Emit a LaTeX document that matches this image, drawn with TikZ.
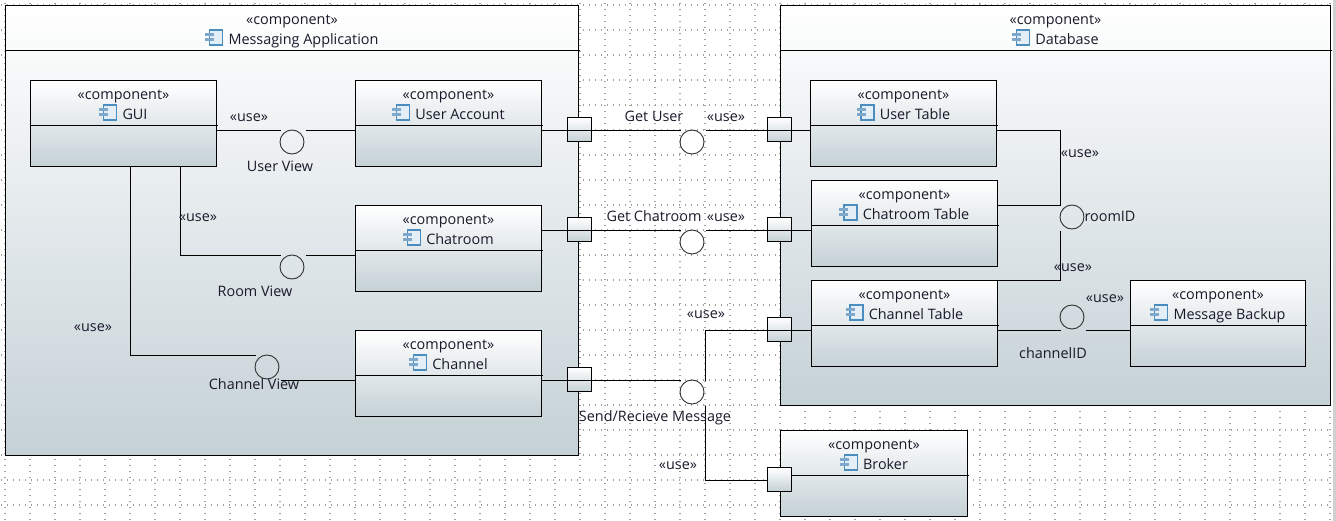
\documentclass[tikz,border=0pt]{standalone}
\usepackage{fontspec}
\setmainfont{Open Sans}
\usepackage{xcolor}
\usepackage{tikz}
\usetikzlibrary{calc}
\definecolor{mBoxEnd}{HTML}{C5D1D6}
\definecolor{mGrid}{HTML}{A0A0A0}
\definecolor{mRing}{HTML}{333333}
\definecolor{mText}{HTML}{1A1A2A}
\definecolor{mIcon}{HTML}{4C8DBF}
\definecolor{mIconIn}{HTML}{E3EEF7}
\definecolor{mIconTab}{HTML}{7FA9CC}
\definecolor{mStripe}{HTML}{D0D0D0}
\tikzset{
 gridline/.style={mGrid, line width=1.5pt, dash pattern=on .75pt off 3.75pt},
 boxnode/.style={draw=black, line width=.75pt, top color=white, bottom color=mBoxEnd, inner sep=0pt, outer sep=0pt, anchor=north west},
 portbox/.style={boxnode, anchor=center, minimum width=18pt, minimum height=18pt},
 ringnode/.style={circle, draw=mRing, line width=.7pt, inner sep=0pt, outer sep=0pt, minimum size=18pt},
 conn/.style={black, line width=.75pt},
 lbl/.style={font=\fontsize{10.8}{12}\selectfont, text=mText, inner sep=0pt, anchor=base},
 compicon/.pic={
  \draw[mIcon, fill=mIconIn, line width=1pt] (-18.5,-14) rectangle (-5.5,1);
  \fill[mIconTab] (-23,-11.5) rectangle (-14,-8.5);
  \fill[mIconTab] (-23,-6.5) rectangle (-14,-3.5);
 }
}
\newcommand{\compnode}[6]{%
 \node[boxnode, minimum width=#3*0.75pt, minimum height=#4*0.75pt] (#5) at (#1,#2) {};%
 \draw[conn] (#5.north west) ++(0,45) -- ++(#3+1,0);%
 \node[lbl] (#5-s) at ($(#5.north)+(0,18.5)$) {«component»};%
 \node[lbl] (#5-t) at ($(#5.north)+(11.5,38.5)$) {#6};%
 \pic at (#5-t.base west) {compicon};}
\newcommand{\facenode}[3]{%
 \node[ringnode] (#3) at (#1,#2) {};%
 \coordinate (#3-l) at (#1-11.5,#2-11.5);%
 \coordinate (#3-r) at (#1+13.5,#2-11.5);%
 \coordinate (#3-d) at (#1-11.5,#2+13.5);%
 \coordinate (#3-b) at (#1+13.5,#2+13.5);}
\begin{document}
\begin{tikzpicture}[x=0.75pt,y=-0.75pt]
\useasboundingbox (0,0) rectangle (1336,521);
\foreach \gy in {5,30,...,505} \draw[gridline] (1,\gy) -- (1331,\gy);
\foreach \gx in {5,30,...,1330} \draw[gridline] (\gx,3) -- (\gx,521);
\fill[mStripe] (1333,0) rectangle (1336,521);

\compnode{5.5}{5.5}{573}{450}{app}{Messaging Application}
\compnode{780.5}{5.5}{550}{400}{db}{Database}
\compnode{30.5}{80.5}{186}{86}{gui}{GUI}
\compnode{355.5}{80.5}{186}{86}{uacc}{User Account}
\compnode{355.5}{205.5}{186}{86}{room}{Chatroom}
\compnode{355.5}{330.5}{186}{86}{chan}{Channel}
\compnode{810.5}{80.5}{186}{86}{utab}{User Table}
\compnode{811.5}{180.5}{186}{86}{rtab}{Chatroom Table}
\compnode{811.5}{280.5}{186}{86}{ctab}{Channel Table}
\compnode{1130.5}{280.5}{175}{86}{msgb}{Message Backup}
\compnode{780.5}{430.5}{187}{86}{brok}{Broker}

\node[portbox] (pu1) at (579.5,129.5) {};
\node[portbox] (pr1) at (579.5,229.5) {};
\node[portbox] (pc1) at (579.5,379.5) {};
\node[portbox] (pu2) at (779.5,129.5) {};
\node[portbox] (pr2) at (779.5,229.5) {};
\node[portbox] (pc2) at (779.5,329.5) {};
\node[portbox] (pb2) at (779.5,479.5) {};

\facenode{292}{142}{uview}
\facenode{292}{267}{rview}
\facenode{267}{367}{cview}
\facenode{692}{142}{guser}
\facenode{692}{242}{groom}
\facenode{692}{392}{send}
\facenode{1072}{217}{roomid}
\facenode{1072}{317}{chanid}

\coordinate (guib) at (180.5,255.5);
\coordinate (guic) at (130.5,355.5);
\coordinate (sendt) at (705.5,330.5);
\coordinate (sendu) at (705.5,480.5);
\coordinate (roomt) at (1060.5,130.5);

\draw[conn] (gui.east |- uview-l) -- (uview-l);
\draw[conn] (uview-r) -- (uacc.west |- uview-r);
\draw[conn] (gui.south -| guib) -- (guib) -- (rview-l);
\draw[conn] (rview-r) -- (room.west |- rview-r);
\draw[conn] (gui.south -| guic) -- (guic) -- (cview-l);
\draw[conn] (cview-b) -- (chan.west |- cview-b);
\draw[conn] (uacc.east |- guser-l) -- (guser-l);
\draw[conn] (guser-r) -- (utab.west |- guser-r);
\draw[conn] (room.east |- groom-l) -- (groom-l);
\draw[conn] (groom-r) -- (rtab.west |- groom-r);
\draw[conn] (chan.east |- send-l) -- (send-l);
\draw[conn] (send-r) -- (sendt) -- (ctab.west |- sendt);
\draw[conn] (send-b) -- (sendu) -- (pb2.west |- sendu);
\draw[conn] (utab.east |- roomt) -- (roomt) -- (roomid-l) -- (rtab.east |- roomid-l);
\draw[conn] (roomid-d) -- (roomid-d |- ctab.north) -- (ctab.north east);
\draw[conn] (ctab.east |- chanid-d) -- (chanid-d);
\draw[conn] (chanid-b) -- (msgb.west |- chanid-b);

\node[lbl] (use1) at (249,121) {«use»};
\node[lbl] (use2) at (198,221) {«use»};
\node[lbl] (use3) at (93,331) {«use»};
\node[lbl] (use4) at (726,121) {«use»};
\node[lbl] (use5) at (726,221) {«use»};
\node[lbl] (use6) at (706,318) {«use»};
\node[lbl] (use7) at (678,469) {«use»};
\node[lbl] (use8) at (1080,157) {«use»};
\node[lbl] (use9) at (1073,271) {«use»};
\node[lbl] (use10) at (1105,302) {«use»};
\node[lbl] (uview-t) at (280,171) {User View};
\node[lbl] (rview-t) at (255,296) {Room View};
\node[lbl] (cview-t) at (254,389) {Channel View};
\node[lbl] (guser-t) at (654,121) {Get User};
\node[lbl] (groom-t) at (654,221) {Get Chatroom};
\node[lbl] (send-t) at (655,421) {Send/Recieve Message};
\node[lbl] (roomid-t) at (1110,221) {roomID};
\node[lbl] (chanid-t) at (1053,358) {channelID};
\end{tikzpicture}
\end{document}
